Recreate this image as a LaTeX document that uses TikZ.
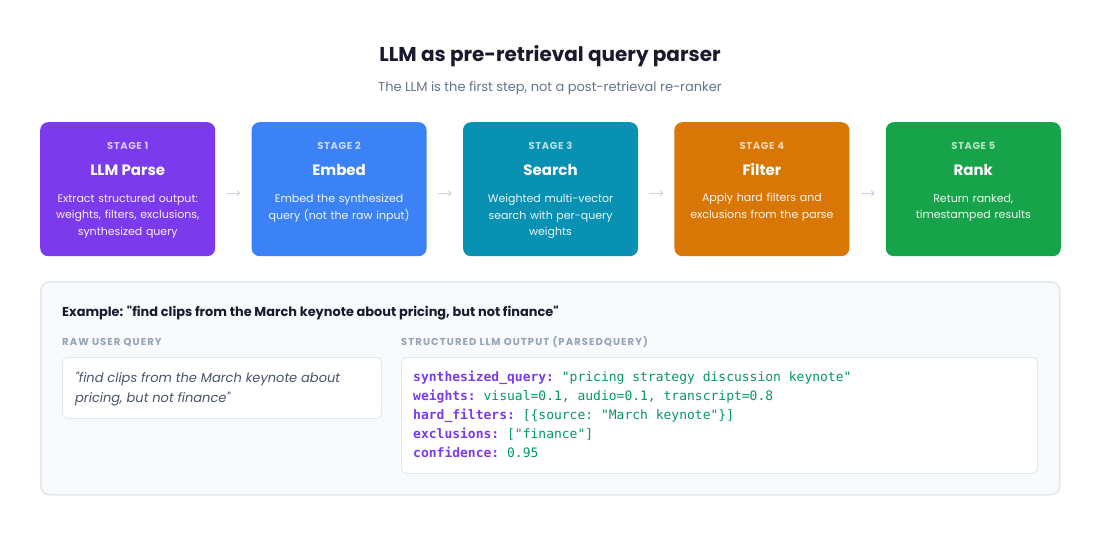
\documentclass[tikz,border=0pt]{standalone}
\usepackage{fontspec}
\setmainfont{Poppins}
\setmonofont{DejaVu Sans Mono}
\usepackage{xcolor}
\usetikzlibrary{positioning, arrows.meta, calc}
\definecolor{ink}{HTML}{1a1a2e}
\definecolor{subtle}{HTML}{64748b}
\definecolor{capGray}{HTML}{94a3b8}
\definecolor{rawInk}{HTML}{475569}
\definecolor{arrowGray}{HTML}{cbd5e1}
\definecolor{panelBg}{HTML}{f8fafc}
\definecolor{panelB}{HTML}{e2e8f0}
\definecolor{stParse}{HTML}{7c3aed}
\definecolor{stEmbed}{HTML}{3b82f6}
\definecolor{stSearch}{HTML}{0891b2}
\definecolor{stFilter}{HTML}{d97706}
\definecolor{stRank}{HTML}{16a34a}
\definecolor{keyPurple}{HTML}{7c3aed}
\definecolor{valGreen}{HTML}{059669}
\newcommand{\ckey}[1]{\textbf{\color{keyPurple}#1}}
\newcommand{\cval}[1]{{\color{valGreen}#1}}
\newcommand{\dq}{\XeTeXglyph\XeTeXcharglyph"22\relax}

\begin{document}
\begin{tikzpicture}[x=1pt, y=-1pt,
  stage/.style={minimum width=175pt, minimum height=134pt, rounded corners=8pt, draw=none, inner sep=0pt},
  stlbl/.style={font=\fontsize{10}{12}\selectfont\bfseries\addfontfeature{LetterSpace=6}, text=white, text opacity=0.7, inner sep=0pt, anchor=base},
  sttitle/.style={font=\fontsize{15}{18}\selectfont\bfseries, text=white, inner sep=0pt, anchor=base},
  stdesc/.style={font=\fontsize{11}{16.5}\selectfont, text=white, text opacity=0.92, align=center, text width=165pt, inner sep=0pt, anchor=north},
  flow/.style={draw=arrowGray, line width=1pt, -{Straight Barb[length=2.5pt, width=5pt]}},
  caps/.style={font=\fontsize{10}{12}\selectfont\bfseries\addfontfeature{LetterSpace=11}, text=capGray, inner sep=0pt, anchor=base west},
  card/.style={fill=white, draw=panelB, line width=0.8pt, rounded corners=5pt, anchor=north west, inner sep=0pt}]
\useasboundingbox (0,0) rectangle (1100,535);
% title
\node[font=\fontsize{20}{24}\selectfont\bfseries, text=ink, anchor=base, inner sep=0pt] (title) at (550,62) {LLM as pre-retrieval query parser};
\node[font=\fontsize{13}{16}\selectfont, text=subtle, anchor=base, inner sep=0pt] (subtitle) at (550,91.5) {The LLM is the first step, not a post-retrieval re-ranker};
% stages
\node[stage, fill=stParse, anchor=north west] (s1) at (40,122) {};
\node[stage, fill=stEmbed, right=36pt of s1] (s2) {};
\node[stage, fill=stSearch, right=36pt of s2] (s3) {};
\node[stage, fill=stFilter, right=36pt of s3] (s4) {};
\node[stage, fill=stRank, right=36pt of s4] (s5) {};
\node[stlbl] (l1) at ($(s1.north)+(0,27.5)$) {STAGE 1};
\node[stlbl] (l2) at ($(s2.north)+(0,27.5)$) {STAGE 2};
\node[stlbl] (l3) at ($(s3.north)+(0,27.5)$) {STAGE 3};
\node[stlbl] (l4) at ($(s4.north)+(0,27.5)$) {STAGE 4};
\node[stlbl] (l5) at ($(s5.north)+(0,27.5)$) {STAGE 5};
\node[sttitle] (t1) at ($(s1.north)+(0,53.5)$) {LLM Parse};
\node[sttitle] (t2) at ($(s2.north)+(0,53.5)$) {Embed};
\node[sttitle] (t3) at ($(s3.north)+(0,53.5)$) {Search};
\node[sttitle] (t4) at ($(s4.north)+(0,53.5)$) {Filter};
\node[sttitle] (t5) at ($(s5.north)+(0,53.5)$) {Rank};
\node[stdesc, below=72pt of s1.north] (d1) {Extract structured output:\\weights, filters, exclusions,\\synthesized query};
\node[stdesc, below=72pt of s2.north] (d2) {Embed the synthesized\\query (not the raw input)};
\node[stdesc, below=72pt of s3.north] (d3) {Weighted multi-vector\\search with per-query\\weights};
\node[stdesc, below=71pt of s4.north] (d4) {Apply hard filters and\\exclusions from the parse};
\node[stdesc, below=72pt of s5.north] (d5) {Return ranked,\\timestamped results};
\draw[flow] ([shift={(11pt,-4pt)}]s1.east) -- ([shift={(-11pt,-4pt)}]s2.west);
\draw[flow] ([shift={(11pt,-4pt)}]s2.east) -- ([shift={(-11pt,-4pt)}]s3.west);
\draw[flow] ([shift={(11pt,-4pt)}]s3.east) -- ([shift={(-11pt,-4pt)}]s4.west);
\draw[flow] ([shift={(11pt,-4pt)}]s4.east) -- ([shift={(-11pt,-4pt)}]s5.west);
% example panel
\node[fill=panelBg, draw=panelB, line width=1.5pt, rounded corners=9pt, minimum width=1019pt, minimum height=213pt, anchor=north west, inner sep=0pt] (panel) at (40,281) {};
\node[font=\fontsize{12.9}{16}\selectfont\bfseries, text=ink, anchor=base west, inner sep=0pt] (ex) at (62,316) {Example: \dq find clips from the March keynote about pricing, but not finance\dq};
\node[caps] (rawlbl) at (62,345.5) {RAW USER QUERY};
\node[caps] (outlbl) at (401,345.5) {STRUCTURED LLM OUTPUT (PARSEDQUERY)};
\node[card, minimum width=319pt, minimum height=61pt] (raw) at (62,357) {};
\node[card, minimum width=636pt, minimum height=116pt] (code) at (401,357) {};
\node[font=\fontsize{13}{20}\selectfont\itshape, text=rawInk, align=left, anchor=north west, inner sep=0pt, below right=15pt and 13pt of raw.north west] (rawtxt) {\dq find clips from the March keynote about\\pricing, but not finance\dq};
\node[font=\fontsize{13}{19}\selectfont\ttfamily, align=left, anchor=north west, inner sep=0pt, below right=14pt and 12pt of code.north west] (codetxt) {%
\ckey{synthesized\_query:} \cval{"pricing strategy discussion keynote"}\\
\ckey{weights:} \cval{visual=0.1, audio=0.1, transcript=0.8}\\
\ckey{hard\_filters:} \cval{[\{source: "March keynote"\}]}\\
\ckey{exclusions:} \cval{["finance"]}\\
\ckey{confidence:} \cval{0.95}};
\end{tikzpicture}
\end{document}
